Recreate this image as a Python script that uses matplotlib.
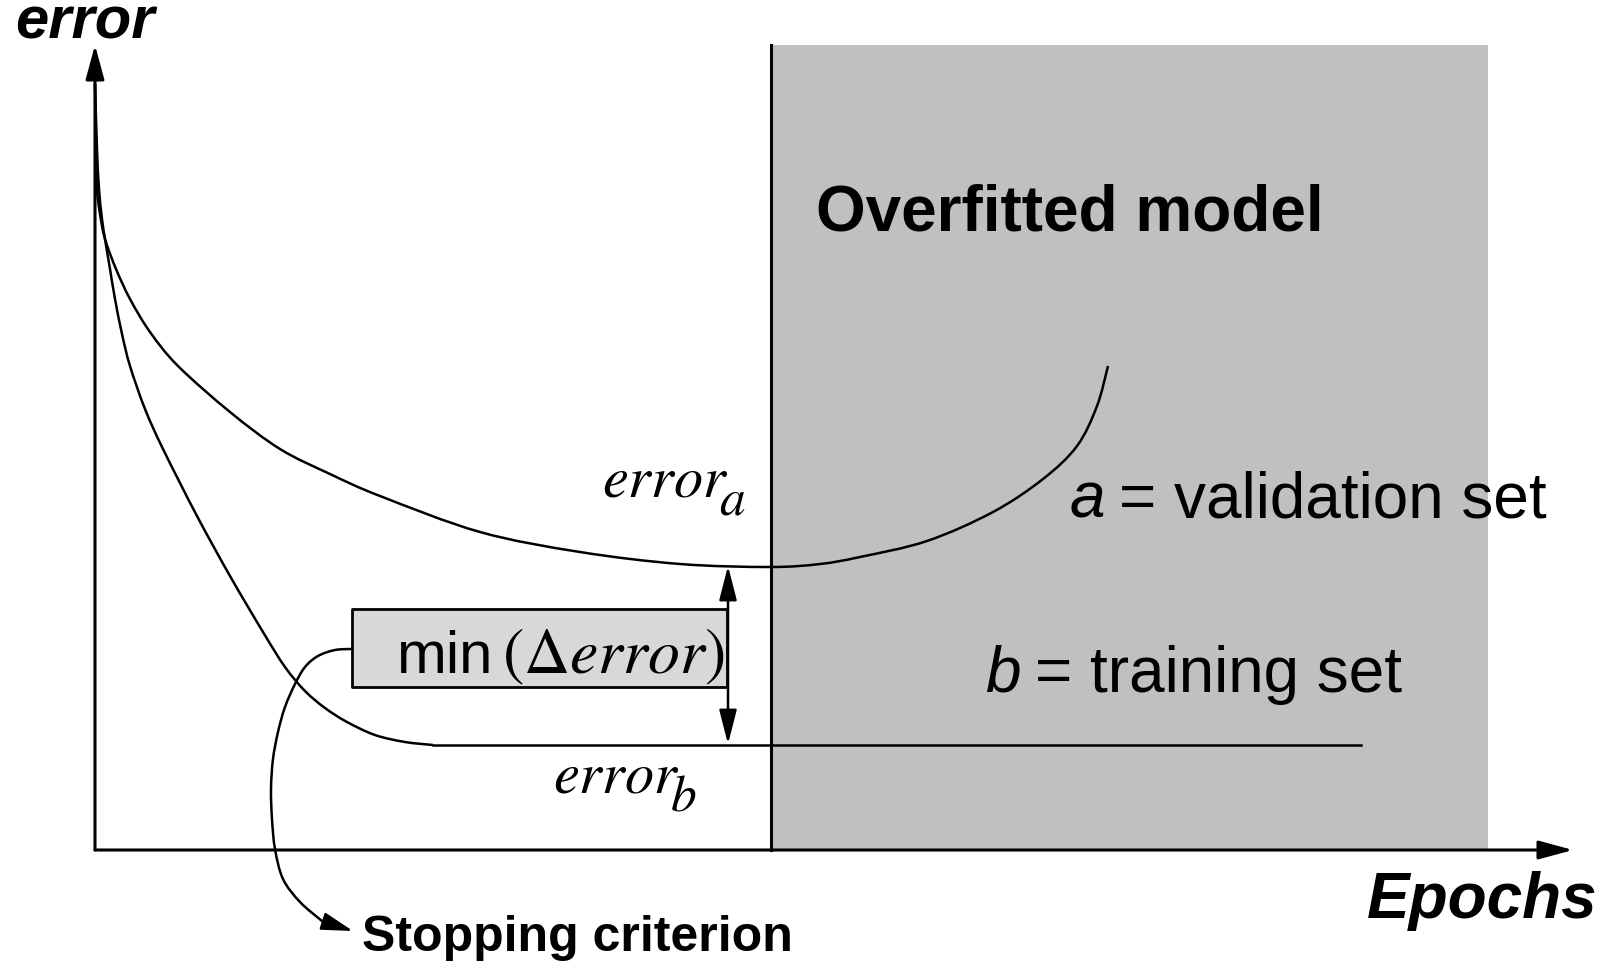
import matplotlib
matplotlib.use('Agg')
from matplotlib import pyplot as plt
from matplotlib.path import Path
from matplotlib.patches import PathPatch

plt.rcParams['font.family'] = ['Liberation Sans', 'DejaVu Sans']
plt.rcParams['mathtext.fontset'] = 'stix'

# validation error curve (a)
val_x = [0.0, 0.1, 0.2, 0.5, 1.0, 2.1, 3.5, 5.5, 8.3, 13.5, 18.5, 23.5, 28.5, 38.5, 48.5,
         58.5, 67.5, 72.5, 76.5, 83.2, 89.8, 94.8, 98.2, 100.2, 101.3]
val_y = [76.6, 70.1, 66.1, 63.6, 61.1, 58.1, 55.1, 51.8, 48.4, 43.8, 40.1, 37.6, 35.4, 31.8, 29.8,
         28.6, 28.3, 28.6, 29.3, 30.9, 33.8, 37.1, 40.4, 44.4, 48.4]

# training error curve (b), then its flat tail
train_x = [0.0, 0.2, 0.4, 0.7, 1.0, 1.5, 2.0, 2.7, 3.5, 5.0, 6.8, 10.2, 13.5, 16.8,
           19.0, 21.0, 23.0, 25.2, 28.0, 31.0, 33.8]
train_y = [76.6, 70.1, 66.1, 63.1, 61.1, 58.1, 55.1, 51.6, 48.4, 44.1, 40.1, 33.4, 27.4, 21.8,
           18.3, 15.9, 14.2, 12.8, 11.5, 10.8, 10.5]
train_tail_x = [33.8, 126.6]
train_tail_y = [10.5, 10.5]

# stopping criterion pointer
stop_x = [25.7, 24.0, 22.3, 21.0, 20.0, 19.0, 18.3, 17.8, 17.6, 17.7, 18.0, 18.8, 20.5, 22.7]
stop_y = [20.1, 20.0, 19.4, 18.3, 16.6, 14.3, 11.8, 9.1, 6.1, 3.1, 0.1, -2.9, -5.2, -7.1]
stop_tip = (25.8, -8.1)

overfit_x = (67.6, 139.3)
axis_top = 80.5
axis_right = 147.8
min_err_a = 28.4
min_err_b = 10.6
box_x = (25.7, 63.2)
box_y = (16.3, 24.1)


def smooth_path(xs, ys):
    # Catmull-Rom through the read points, drawn as cubic Bezier segments
    pts = list(zip(xs, ys))
    verts = [pts[0]]
    codes = [Path.MOVETO]
    for i in range(len(pts) - 1):
        p0 = pts[i - 1] if i > 0 else pts[i]
        p1 = pts[i]
        p2 = pts[i + 1]
        p3 = pts[i + 2] if i + 2 < len(pts) else p2
        c1 = (p1[0] + (p2[0] - p0[0]) / 6, p1[1] + (p2[1] - p0[1]) / 6)
        c2 = (p2[0] - (p3[0] - p1[0]) / 6, p2[1] - (p3[1] - p1[1]) / 6)
        verts += [c1, c2, p2]
        codes += [Path.CURVE4] * 3
    return Path(verts, codes)


fig = plt.figure(figsize=(16.14, 9.62), dpi=100)
ax = fig.add_axes([0, 0, 1, 1])
ax.set_xlim(-9.5, 151.9)
ax.set_ylim(-11.1, 85.1)
ax.axis('off')

# overfitted zone
ax.fill_between(overfit_x, 0, axis_top, color='#c0c0c0', lw=0, zorder=0)
ax.plot([overfit_x[0], overfit_x[0]], [0, axis_top], color='black', lw=2.2)

# axes arrows
arrow = dict(arrowstyle='-|>,head_length=1.4,head_width=0.38', color='black',
             lw=2.2, mutation_scale=15, shrinkA=0, shrinkB=0)
ax.annotate('', xy=(0, axis_top), xytext=(0, 0), arrowprops=arrow)
ax.annotate('', xy=(axis_right, 0), xytext=(0, 0), arrowprops=arrow)

ax.add_patch(PathPatch(smooth_path(val_x, val_y), fill=False, color='black', lw=1.8))
ax.add_patch(PathPatch(smooth_path(train_x, train_y), fill=False, color='black', lw=1.8))
ax.plot(train_tail_x, train_tail_y, color='black', lw=1.8)

# min(delta error) box
ax.fill_between(box_x, box_y[0], box_y[1], facecolor='#d8d8d8', edgecolor='black',
                lw=2.0, zorder=2)
ax.text(30.1, 17.8, 'min', fontsize=43, zorder=3)
ax.text(62.9, 17.8, r'$(\Delta error)$', fontsize=46, ha='right', zorder=3)

darrow = dict(arrowstyle='<|-|>,head_length=1.4,head_width=0.36', color='black',
              lw=1.8, mutation_scale=15, shrinkA=0, shrinkB=0)
ax.annotate('', xy=(63.3, min_err_a), xytext=(63.3, min_err_b), arrowprops=darrow, zorder=4)

# stopping criterion
ax.add_patch(PathPatch(smooth_path(stop_x, stop_y), fill=False, color='black', lw=1.8))
sarrow = dict(arrowstyle='-|>,head_length=1.6,head_width=0.45', color='black',
              lw=1.8, mutation_scale=12, shrinkA=0, shrinkB=0)
ax.annotate('', xy=stop_tip, xytext=(stop_x[-1], stop_y[-1]), arrowprops=sarrow)
ax.text(26.7, -10.0, 'Stopping criterion', fontsize=36, fontweight='bold')

# labels
ax.text(-8.0, 81.2, 'error', fontsize=43, fontweight='bold', style='italic')
ax.text(127.2, -6.7, 'Epochs', fontsize=46, fontweight='bold', style='italic')
ax.text(72.1, 62.0, 'Overfitted model', fontsize=46, fontweight='bold')

# error_a / error_b with a large subscript right after the word
for sub, x0, y0 in [('a', 50.7, 35.4), ('b', 45.8, 5.8)]:
    word = ax.text(x0, y0, r'$error$', fontsize=42)
    ax.annotate(r'$%s$' % sub, xy=(1, 0), xycoords=word, xytext=(-7, -12),
                textcoords='offset points', fontsize=37, va='bottom')

ax.text(97.5, 33.3, 'a', fontsize=46, style='italic')
ax.text(145.2, 33.3, '= validation set', fontsize=46, ha='right')
ax.text(89.0, 15.9, 'b', fontsize=46, style='italic')
ax.text(130.7, 15.9, '= training set', fontsize=46, ha='right')

fig.savefig('out.png', dpi=100)
